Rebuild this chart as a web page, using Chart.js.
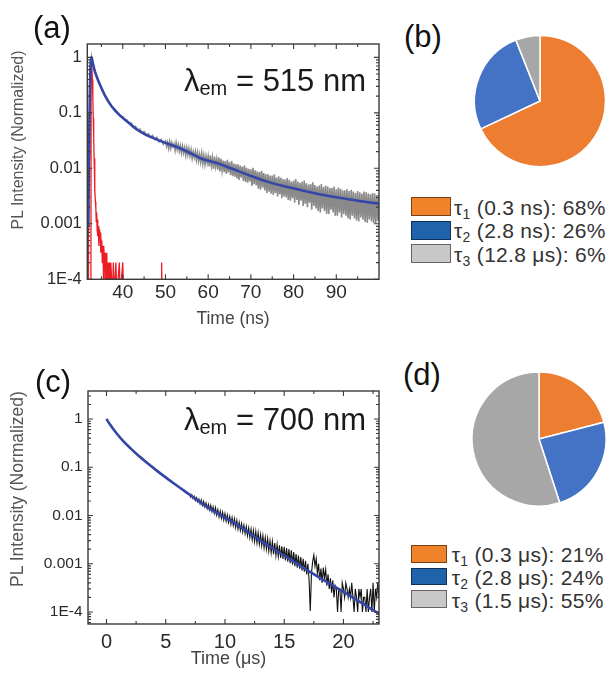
<!DOCTYPE html>
<html lang="en">
<head>
<meta charset="utf-8">
<title>PL decay and lifetime components</title>
<script src="https://cdn.jsdelivr.net/npm/chart.js@4.4.1/dist/chart.umd.min.js"></script>
<style>
  html, body { margin: 0; padding: 0; background: #fff; }
  body { position: relative; width: 611px; height: 673px; overflow: hidden;
         font-family: "Liberation Sans", Arial, sans-serif; color: #222; }
  canvas { position: absolute; }
  .t { position: absolute; white-space: nowrap; line-height: 1; }
  .panel { font-size: 31px; color: #111; }
  .lam { font-size: 31px; color: #1a1a1a; }
  .lam .s { font-size: 20px; position: relative; top: 4px; }
  .ytitle { color: #555; transform: translate(-50%, -50%) rotate(-90deg); }
  .xtitle { color: #444; transform: translateX(-50%); }
  .leg { position: absolute; }
  .leg .box { position: absolute; left: 0; box-sizing: border-box; border: 1px solid rgba(0,0,0,0.5); }
  .leg .txt { position: absolute; white-space: nowrap; line-height: 1; font-size: 21px;
              letter-spacing: 0.3px; color: #333; }
  .leg .txt .s { font-size: 14px; position: relative; top: 4px; }
</style>
</head>
<body>
<canvas id="cA" width="390" height="330" style="left:0;top:0"></canvas>
<canvas id="cB" width="150" height="150" style="left:465px;top:26px"></canvas>
<canvas id="cC" width="390" height="333" style="left:0;top:340px"></canvas>
<canvas id="cD" width="150" height="150" style="left:464px;top:364px"></canvas>

<div class="t panel" style="left:33px;top:12.3px">(a)</div>
<div class="t panel" style="left:404px;top:20.8px">(b)</div>
<div class="t panel" style="left:35px;top:365.8px">(c)</div>
<div class="t panel" style="left:403px;top:359.3px">(d)</div>

<div class="t lam" style="left:184px;top:65.3px">λ<span class="s">em</span> = 515 nm</div>
<div class="t lam" style="left:184px;top:403.8px">λ<span class="s">em</span> = 700 nm</div>

<div class="t ytitle" style="left:18px;top:140px;font-size:16px">PL Intensity (Normalized)</div>
<div class="t ytitle" style="left:17.5px;top:488.5px;font-size:17.5px">PL Intensity (Normalized)</div>
<div class="t xtitle" style="left:233px;top:310.2px;font-size:17.5px">Time (ns)</div>
<div class="t xtitle" style="left:228.5px;top:648.8px;font-size:18px">Time (μs)</div>

<div class="leg" id="legB" style="left:411px;top:197px"></div>
<div class="leg" id="legD" style="left:410.7px;top:545px"></div>

<script>
// ---- axis ticks ---------------------------------------------------------
const xTicksA = [40, 50, 60, 70, 80, 90];
const xMinorA = [35, 45, 55, 65, 75, 85, 95];
const xTicksC = [0, 5, 10, 15, 20];
const xMinorC = [2.5, 7.5, 12.5, 17.5, 22.5];
const yTicks = [1e-4, 1e-3, 1e-2, 1e-1, 1];
const yTickLabels = ['1E-4', '0.001', '0.01', '0.1', '1'];

// ---- 515 nm emission: [time (ns), normalized intensity] -----------------
const fitA = [
  [31.95, 0.0009], [32.1, 0.02], [32.3, 0.25], [32.5, 0.8], [32.7, 1.0], [33.0, 0.78],
  [33.5, 0.55], [34.0, 0.43], [34.67, 0.32], [35.4, 0.24], [36.24, 0.18], [37.0, 0.145],
  [37.8, 0.12], [38.9, 0.097], [40.1, 0.080], [41.6, 0.064], [43.3, 0.050], [45.2, 0.041],
  [47.2, 0.035], [50.4, 0.028], [53.4, 0.023], [56.3, 0.018], [58.2, 0.0152], [62.2, 0.0123],
  [66.1, 0.0095], [70, 0.0073], [74, 0.0057], [78, 0.0047], [82, 0.0040], [86, 0.0034],
  [90, 0.0030], [95, 0.0026], [100, 0.0023]
];

// instrument response (counts below 1E-4 sit under the axis)
const irfA = [
  [31.9, 5e-5], [31.95, 0.0009], [32.0, 5e-5], [32.55, 5e-5], [32.6, 0.95], [32.7, 1.0],
  [32.8, 0.7], [32.9, 0.4], [33.0, 0.18], [33.1, 0.08], [33.2, 0.035], [33.3, 0.015],
  [33.4, 0.007], [33.5, 0.004], [33.6, 0.0025], [33.7, 0.0019], [33.8, 0.0011], [33.9, 0.0016],
  [34.0, 0.0008], [34.1, 0.0012], [34.2, 0.0006], [34.3, 0.0009], [34.4, 0.0004], [34.5, 0.0008],
  [34.6, 0.0005], [34.7, 0.0007], [34.8, 0.0003], [34.9, 0.0006], [35.0, 0.0004], [35.1, 0.0005],
  [35.2, 0.0002], [35.3, 0.0004], [35.4, 0.0003], [35.5, 5e-5], [35.6, 0.0004], [35.7, 0.0002],
  [35.8, 0.0003], [35.9, 0.0001], [36.0, 0.0003], [36.1, 0.0002], [36.2, 5e-5], [36.3, 0.0003],
  [36.4, 0.0001], [36.5, 0.0002], [36.6, 5e-5], [36.7, 0.0002], [36.8, 0.0001], [36.9, 0.0002],
  [37.0, 5e-5], [37.2, 0.0002], [37.4, 0.0001], [37.6, 5e-5], [37.8, 0.0002], [38.0, 5e-5],
  [38.4, 0.0002], [38.6, 5e-5], [39.2, 0.0002], [39.4, 5e-5], [40.0, 0.0002], [40.2, 5e-5],
  [49.0, 5e-5], [49.1, 0.0002], [49.2, 5e-5], [100, 5e-5]
];

// measured decay
const plA = [
  [31.95, 0.0008], [32.1, 0.015], [32.3, 0.22], [32.5, 0.75], [32.7, 1.02], [32.85, 0.86],
  [33.0, 0.8], [33.25, 0.64], [33.5, 0.57], [33.75, 0.48], [34.0, 0.44], [34.3, 0.37],
  [34.67, 0.33], [35.0, 0.28], [35.4, 0.25], [35.8, 0.2], [36.24, 0.185], [36.6, 0.16],
  [37.0, 0.15], [37.4, 0.128], [37.8, 0.123], [38.3, 0.105], [38.9, 0.1], [39.5, 0.086],
  [40, 0.084], [40.5, 0.073], [41, 0.074], [41.5, 0.064], [42, 0.065], [42.5, 0.056],
  [43, 0.057], [43.5, 0.049], [44, 0.051], [44.5, 0.044], [45, 0.046], [45.5, 0.040],
  [46, 0.042], [46.5, 0.036], [47, 0.039], [47.5, 0.033], [48, 0.036], [48.5, 0.030],
  [49, 0.033], [49.5, 0.027],
  [50, 0.031], [50.25, 0.025], [50.5, 0.0295], [50.75, 0.023],
  [51, 0.030], [51.25, 0.023], [51.5, 0.029], [51.75, 0.0245],
  [52, 0.0275], [52.25, 0.021], [52.5, 0.029], [52.75, 0.022],
  [53, 0.027], [53.25, 0.0205], [53.5, 0.0255], [53.75, 0.019],
  [54, 0.025], [54.25, 0.019], [54.5, 0.0235], [54.75, 0.0172],
  [55, 0.0235], [55.25, 0.0175], [55.5, 0.0225], [55.75, 0.0168],
  [56, 0.0215], [56.25, 0.0152], [56.5, 0.020], [56.75, 0.0158],
  [57, 0.020], [57.25, 0.0142], [57.5, 0.0192], [57.75, 0.0135],
  [58, 0.0178], [58.25, 0.013], [58.5, 0.0185], [58.75, 0.0122],
  [59, 0.017], [59.25, 0.0118], [59.5, 0.0165], [59.75, 0.0125],
  [60, 0.0165], [60.25, 0.0108], [60.5, 0.0172], [60.75, 0.0112],
  [61, 0.0155], [61.25, 0.0098], [61.5, 0.0162], [61.75, 0.0108],
  [62, 0.0145], [62.25, 0.0095], [62.5, 0.0158], [62.75, 0.0088],
  [63, 0.0148], [63.25, 0.0092], [63.5, 0.0138], [63.75, 0.0085],
  [64, 0.0135], [64.25, 0.0079], [64.5, 0.0142], [64.75, 0.0084],
  [65, 0.0128], [65.25, 0.0075], [65.5, 0.0135], [65.75, 0.0072],
  [66, 0.0122], [66.25, 0.0071], [66.5, 0.0118], [66.75, 0.0066],
  [67, 0.0118], [67.25, 0.0062], [67.5, 0.0112], [67.75, 0.0068],
  [68, 0.0108], [68.25, 0.0059], [68.5, 0.0112], [68.75, 0.0057],
  [69, 0.0102], [69.25, 0.0055], [69.5, 0.0098], [69.75, 0.0058],
  [70, 0.0096], [70.25, 0.0048], [70.5, 0.0102], [70.75, 0.0052],
  [71, 0.0092], [71.25, 0.0049], [71.5, 0.0088], [71.75, 0.0043],
  [72, 0.0086], [72.25, 0.0041], [72.5, 0.0090], [72.75, 0.0045],
  [73, 0.0082], [73.25, 0.0040], [73.5, 0.0079], [73.75, 0.0036],
  [74, 0.0078], [74.25, 0.0038], [74.5, 0.0074], [74.75, 0.0035],
  [75, 0.0074], [75.25, 0.0033], [75.5, 0.0078], [75.75, 0.0036],
  [76, 0.0068], [76.25, 0.0031], [76.5, 0.0072], [76.75, 0.0034],
  [77, 0.0068], [77.25, 0.0029], [77.5, 0.0064], [77.75, 0.0031],
  [78, 0.0063], [78.25, 0.0030], [78.5, 0.0067], [78.75, 0.0027],
  [79, 0.0062], [79.25, 0.0026], [79.5, 0.0058], [79.75, 0.0029],
  [80, 0.0060], [80.25, 0.0024], [80.5, 0.0064], [80.75, 0.0027],
  [81, 0.0058], [81.25, 0.0022], [81.5, 0.0055], [81.75, 0.0026],
  [82, 0.0057], [82.25, 0.0021], [82.5, 0.0060], [82.75, 0.0023],
  [83, 0.0054], [83.25, 0.0020], [83.5, 0.0051], [83.75, 0.0024],
  [84, 0.0052], [84.25, 0.0018], [84.5, 0.0056], [84.75, 0.0021],
  [85, 0.0050], [85.25, 0.0019], [85.5, 0.0047], [85.75, 0.0017],
  [86, 0.0049], [86.25, 0.0016], [86.5, 0.0052], [86.75, 0.0019],
  [87, 0.0046], [87.25, 0.0017], [87.5, 0.0049], [87.75, 0.0015],
  [88, 0.0047], [88.25, 0.0015], [88.5, 0.0044], [88.75, 0.0018],
  [89, 0.0044], [89.25, 0.0016], [89.5, 0.0047], [89.75, 0.0014],
  [90, 0.0042], [90.25, 0.0014], [90.5, 0.0045], [90.75, 0.0016],
  [91, 0.0043], [91.25, 0.0013], [91.5, 0.0040], [91.75, 0.0015],
  [92, 0.0040], [92.25, 0.0014], [92.5, 0.0042], [92.75, 0.00125],
  [93, 0.0039], [93.25, 0.0012], [93.5, 0.0041], [93.75, 0.0014],
  [94, 0.0038], [94.25, 0.00125], [94.5, 0.0036], [94.75, 0.00115],
  [95, 0.0039], [95.25, 0.0011], [95.5, 0.0037], [95.75, 0.0013],
  [96, 0.0035], [96.25, 0.00118], [96.5, 0.0038], [96.75, 0.00108],
  [97, 0.0037], [97.25, 0.00105], [97.5, 0.0035], [97.75, 0.0012],
  [98, 0.0034], [98.25, 0.0011], [98.5, 0.0036], [98.75, 0.00102],
  [99, 0.0035], [99.25, 0.00104], [99.5, 0.0033], [99.75, 0.00112],
  [100, 0.0034]
];

// ---- 700 nm emission: [time (μs), normalized intensity] -----------------
const fitC = [
  [0, 1.0], [0.3, 0.767], [0.86, 0.501], [1.42, 0.347], [2.0, 0.251], [2.83, 0.162],
  [4.24, 0.085], [5.64, 0.047], [7.05, 0.0266], [8.47, 0.0151], [9.86, 0.0095],
  [11.27, 0.0059], [12.69, 0.0034], [14.0, 0.0021], [15.5, 0.00123], [17.0, 0.00072],
  [18.3, 0.00046], [20.5, 0.00022], [22.7, 0.000102], [23.0, 0.000093]
];

const plC = [
  [0, 1.0], [0.25, 0.79], [0.5, 0.65], [0.75, 0.55], [1.0, 0.47], [1.5, 0.32], [2.0, 0.245],
  [2.5, 0.195], [3.0, 0.155], [3.5, 0.12], [4.0, 0.098], [4.5, 0.077], [5.0, 0.063],
  [5.25, 0.055], [5.5, 0.051], [5.75, 0.044], [6.0, 0.041], [6.25, 0.036], [6.5, 0.034],
  [6.75, 0.029],
  [7.0, 0.0282], [7.1, 0.0240], [7.2, 0.0269], [7.3, 0.0224], [7.4, 0.0251], [7.5, 0.0204],
  [7.6, 0.0234], [7.7, 0.0191], [7.8, 0.0219], [7.9, 0.0174],
  [8.0, 0.0209], [8.1, 0.0162], [8.2, 0.0195], [8.3, 0.0151], [8.4, 0.0182], [8.5, 0.0138],
  [8.6, 0.0170], [8.7, 0.0129], [8.8, 0.0162], [8.9, 0.0120],
  [9.0, 0.0151], [9.1, 0.0110], [9.2, 0.0145], [9.3, 0.0102], [9.4, 0.0132], [9.5, 0.0093],
  [9.6, 0.0123], [9.7, 0.0087], [9.8, 0.0117], [9.9, 0.0081],
  [10.0, 0.0110], [10.1, 0.0076], [10.2, 0.0102], [10.3, 0.0071], [10.4, 0.0095], [10.5, 0.0065],
  [10.6, 0.0091], [10.7, 0.0062], [10.8, 0.0085], [10.9, 0.0056],
  [11.0, 0.0079], [11.1, 0.0052], [11.2, 0.0072], [11.3, 0.0049], [11.4, 0.0068], [11.5, 0.0045],
  [11.6, 0.0063], [11.7, 0.0042], [11.8, 0.0059], [11.9, 0.0038],
  [12.0, 0.0055], [12.1, 0.00347], [12.2, 0.0052], [12.3, 0.00316], [12.4, 0.0049], [12.5, 0.00288],
  [12.6, 0.0047], [12.7, 0.00269], [12.8, 0.00437], [12.9, 0.00251],
  [13.0, 0.0040], [13.1, 0.00234], [13.2, 0.0038], [13.3, 0.00214], [13.4, 0.00347], [13.5, 0.0020],
  [13.6, 0.0033], [13.7, 0.00182], [13.8, 0.0030], [13.9, 0.0017],
  [14.0, 0.00288], [14.1, 0.00158], [14.2, 0.00269], [14.3, 0.00148], [14.4, 0.00251],
  [14.5, 0.00141], [14.6, 0.0024], [14.7, 0.00132], [14.8, 0.00229], [14.9, 0.00126],
  [15.0, 0.00224], [15.1, 0.00117], [15.2, 0.0021], [15.3, 0.0011], [15.4, 0.0020],
  [15.5, 0.00102], [15.6, 0.0019], [15.7, 0.00095], [15.8, 0.00174], [15.9, 0.00089],
  [16.0, 0.00158], [16.1, 0.00083], [16.2, 0.00148], [16.3, 0.00079], [16.4, 0.00138],
  [16.5, 0.00072], [16.6, 0.00126], [16.7, 0.00068], [16.8, 0.00115], [16.9, 0.0006],
  [17.0, 0.0010], [17.1, 0.00045], [17.2, 0.000105], [17.3, 0.00063], [17.4, 0.0011],
  [17.5, 0.0015], [17.6, 0.00089], [17.7, 0.00126], [17.8, 0.00063], [17.9, 0.0010],
  [18.0, 0.00045], [18.1, 0.00079], [18.2, 0.0004], [18.3, 0.00083], [18.4, 0.0005],
  [18.5, 0.00076], [18.6, 0.00035], [18.7, 0.0006], [18.8, 0.0003], [18.9, 0.0005],
  [19.0, 0.00025], [19.1, 0.00045], [19.2, 0.0002], [19.3, 0.00035], [19.4, 0.0003],
  [19.5, 0.0001], [19.6, 0.0003], [19.7, 0.0003], [19.8, 0.0001], [19.9, 0.0004],
  [20.0, 0.0003], [20.1, 0.0002], [20.2, 0.0004], [20.3, 0.0003], [20.4, 0.0002],
  [20.5, 0.0003], [20.6, 0.0002], [20.7, 0.0004], [20.8, 0.0002], [20.9, 0.0001],
  [21.0, 0.0003], [21.1, 0.0002], [21.2, 0.0001], [21.3, 0.0003], [21.4, 0.0002],
  [21.5, 0.0003], [21.6, 0.0001], [21.7, 0.0002], [21.8, 0.0002], [21.9, 0.0001],
  [22.0, 0.0003], [22.1, 0.0001], [22.2, 0.0002], [22.3, 0.0003], [22.4, 0.0001],
  [22.5, 0.0004], [22.6, 0.0001], [22.7, 0.0003], [22.8, 0.0002], [22.9, 0.0004], [23.0, 0.0002]
];

// ---- lifetime components ------------------------------------------------
const tauB = ['0.3 ns', '2.8 ns', '12.8 μs'];
const shareB = [68, 26, 6];
const tauD = ['0.3 μs', '2.8 μs', '1.5 μs'];
const shareD = [21, 24, 55];
const sliceColors = ['#ed7d31', '#4472c4', '#a7a7a7'];
const keyColors = ['#f0832a', '#1f63ab', '#c8c8c8'];

// ---- drawing ------------------------------------------------------------
Chart.defaults.font.family = '"Liberation Sans", Arial, sans-serif';
Chart.defaults.color = '#2a2a2a';

const xy = pairs => pairs.map(([x, y]) => ({ x, y }));

// closed plot frame with inward ticks on all four sides
const frameTicks = {
  id: 'frameTicks',
  afterDraw(chart, _args, o) {
    const { ctx, chartArea: a } = chart;
    const xs = chart.scales.x, ys = chart.scales.y;
    ctx.save();
    ctx.strokeStyle = o.color;
    ctx.lineWidth = o.tickWidth;
    ctx.beginPath();
    const xMark = (v, len) => {
      const p = xs.getPixelForValue(v);
      ctx.moveTo(p, a.bottom); ctx.lineTo(p, a.bottom - len);
      ctx.moveTo(p, a.top); ctx.lineTo(p, a.top + len);
    };
    const yMark = (v, len) => {
      const p = ys.getPixelForValue(v);
      ctx.moveTo(a.left, p); ctx.lineTo(a.left + len, p);
      ctx.moveTo(a.right, p); ctx.lineTo(a.right - len, p);
    };
    o.xMajor.forEach(v => xMark(v, o.major));
    o.xMinor.forEach(v => xMark(v, o.minor));
    const e0 = Math.floor(Math.log10(ys.min)), e1 = Math.ceil(Math.log10(ys.max));
    for (let e = e0; e <= e1; e++) {
      for (let k = 1; k <= 9; k++) {
        const v = k * Math.pow(10, e);
        if (v < ys.min || v > ys.max) continue;
        yMark(v, k === 1 ? o.major : o.minor);
      }
    }
    ctx.stroke();
    ctx.lineWidth = o.frameWidth;
    ctx.strokeRect(a.left, a.top, a.right - a.left, a.bottom - a.top);
    ctx.restore();
  }
};

function decayChart(id, c) {
  return new Chart(document.getElementById(id), {
    type: 'line',
    data: { datasets: c.datasets },
    options: {
      responsive: false, animation: false, events: [],
      layout: { padding: c.padding },
      elements: { point: { radius: 0 }, line: { tension: 0 } },
      plugins: {
        legend: { display: false }, tooltip: { enabled: false },
        frameTicks: { xMajor: c.xMajor, xMinor: c.xMinor, color: '#3a3a3a',
                      frameWidth: 1.4, tickWidth: 1.1, major: 5, minor: 3 }
      },
      scales: {
        x: {
          type: 'linear', min: c.xMin, max: c.xMax,
          grid: { display: false, drawTicks: false }, border: { display: false },
          afterBuildTicks: s => { s.ticks = c.xMajor.map(v => ({ value: v })); },
          afterFit: s => { s.height = c.xAxisHeight; },
          ticks: { autoSkip: false, maxRotation: 0, padding: c.xPad, font: { size: c.xFont } }
        },
        y: {
          type: 'logarithmic', min: c.yMin, max: c.yMax,
          grid: { display: false, drawTicks: false }, border: { display: false },
          afterBuildTicks: s => { s.ticks = yTicks.map(v => ({ value: v })); },
          afterFit: s => { s.width = c.yAxisWidth; },
          ticks: { autoSkip: false, padding: 5.5, font: { size: c.yFont },
                   callback: (v, i) => yTickLabels[i] }
        }
      }
    },
    plugins: [frameTicks]
  });
}

decayChart('cA', {
  datasets: [
    { data: xy(fitA), borderColor: '#3447a8', borderWidth: 2.6, cubicInterpolationMode: 'monotone' },
    { data: xy(irfA), borderColor: '#ec1c24', borderWidth: 1.3 },
    { data: xy(plA), borderColor: '#8a8a8a', borderWidth: 1.6 }
  ],
  padding: { left: 0, top: 44, right: 11, bottom: 0 },
  xMin: 31.7, xMax: 100, xMajor: xTicksA, xMinor: xMinorA,
  yMin: 1e-4, yMax: 1.74,
  xAxisHeight: 50.7, yAxisWidth: 87.3, xPad: 2, xFont: 19, yFont: 16.5
});

decayChart('cC', {
  datasets: [
    { data: xy(fitC), borderColor: '#3447a8', borderWidth: 2.6, cubicInterpolationMode: 'monotone' },
    { data: xy(plC), borderColor: '#111111', borderWidth: 1.1 }
  ],
  padding: { left: 0, top: 51, right: 11, bottom: 0 },
  xMin: -1.56, xMax: 23, xMajor: xTicksC, xMinor: xMinorC,
  yMin: 5.62e-5, yMax: 3.8,
  xAxisHeight: 49, yAxisWidth: 88, xPad: 6, xFont: 20, yFont: 15.5
});

function pieChart(id, shares, radius) {
  return new Chart(document.getElementById(id), {
    type: 'pie',
    data: {
      labels: shares.map((_, i) => 'τ' + (i + 1)),
      datasets: [{ data: shares, backgroundColor: sliceColors, borderColor: '#ffffff',
                   borderWidth: 1.5, radius }]
    },
    options: { responsive: false, animation: false, events: [],
               plugins: { legend: { display: false }, tooltip: { enabled: false } } }
  });
}
pieChart('cB', shareB, 65.5);
pieChart('cD', shareD, 67);

// colour keys under each pie
function buildKey(el, taus, shares, g) {
  taus.forEach((tau, i) => {
    const top = i * g.pitch;
    const box = document.createElement('div');
    box.className = 'box';
    Object.assign(box.style, { top: top + 'px', width: g.w + 'px', height: g.h + 'px',
                               background: keyColors[i] });
    const txt = document.createElement('div');
    txt.className = 'txt';
    txt.style.left = g.textLeft + 'px';
    txt.style.top = (top + g.textTop) + 'px';
    txt.innerHTML = 'τ<span class="s">' + (i + 1) + '</span> (' + tau + '): ' + shares[i] + '%';
    el.append(box, txt);
  });
}
buildKey(document.getElementById('legB'), tauB, shareB, { pitch: 23.5, w: 40, h: 19, textLeft: 43, textTop: -0.5 });
buildKey(document.getElementById('legD'), tauD, shareD, { pitch: 22.7, w: 36, h: 17.5, textLeft: 41, textTop: -0.8 });
</script>
</body>
</html>
